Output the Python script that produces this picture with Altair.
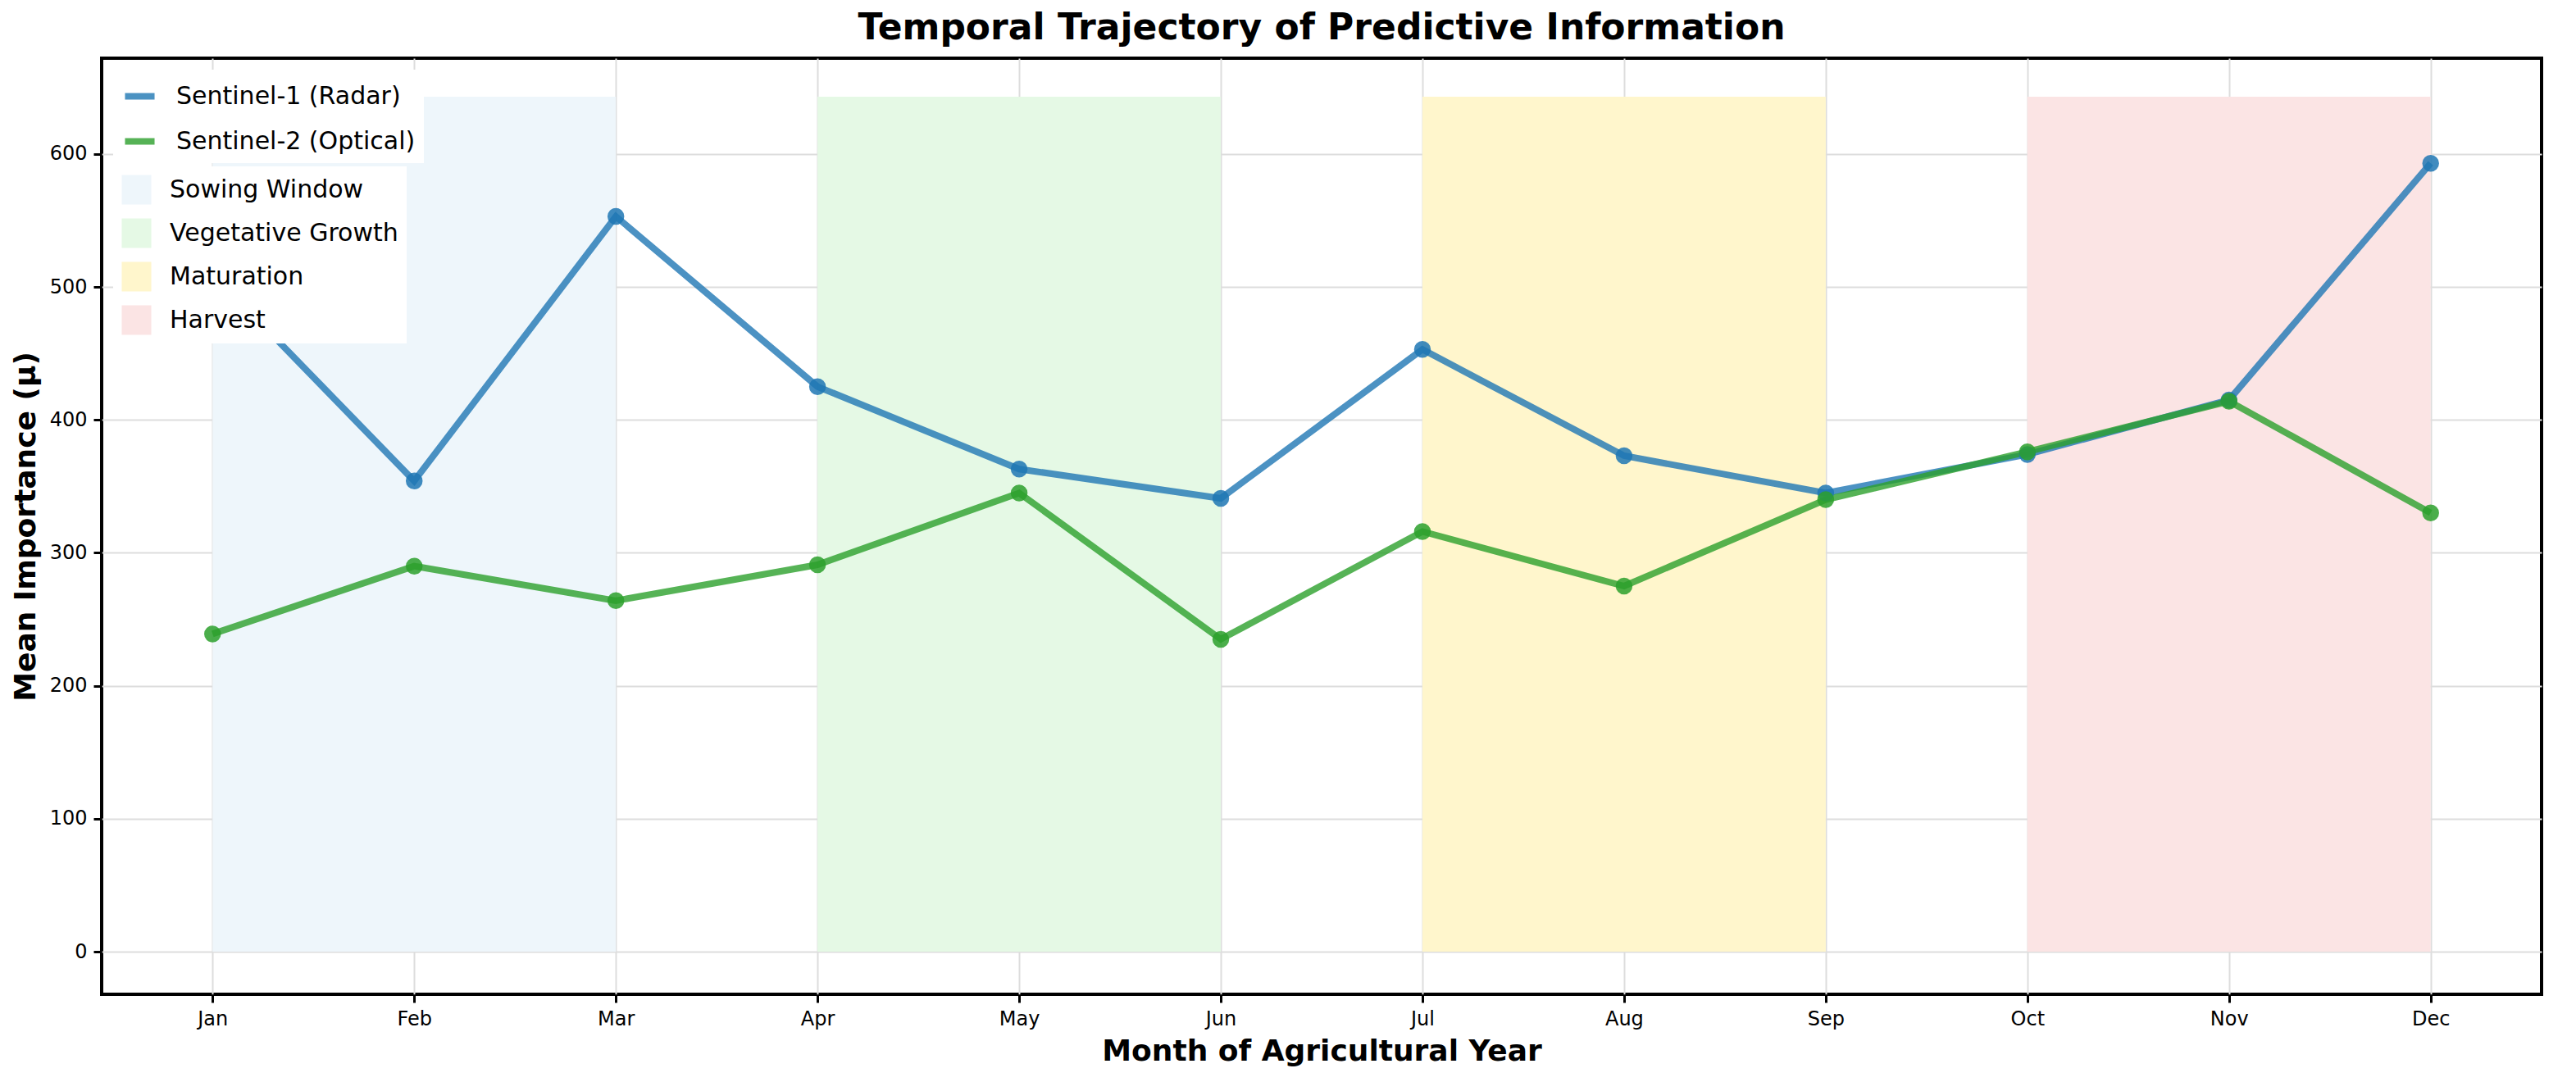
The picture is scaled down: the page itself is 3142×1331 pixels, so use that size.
import altair as alt
import pandas as pd

months = ["Jan","Feb","Mar","Apr","May","Jun","Jul","Aug","Sep","Oct","Nov","Dec"]
s1 = [510, 354, 553, 425, 363, 341, 453, 373, 345, 374, 415, 593]
s2 = [239, 290, 264, 291, 345, 235, 316, 275, 340, 376, 414, 330]
series_names = ["Sentinel-1 (Radar)", "Sentinel-2 (Optical)"]
series_colors = ["#1f77b4", "#2ca02c"]
phase_names = ["Sowing Window", "Vegetative Growth", "Maturation", "Harvest"]
phase_start = [0, 3, 6, 9]
phase_end = [2, 5, 8, 11]
phase_colors = ["#eef6fb", "#e5f9e5", "#fff6cc", "#fbe4e4"]
band_top = 643

rows = []
for i, m in enumerate(months):
    rows.append({"idx": i, "month": m, "series": series_names[0], "value": s1[i]})
    rows.append({"idx": i, "month": m, "series": series_names[1], "value": s2[i]})
df = pd.DataFrame(rows)
bands = pd.DataFrame({"phase": phase_names, "x0": phase_start, "x1": phase_end,
                      "y0": [0]*4, "y1": [band_top]*4})

label_expr = "[" + ",".join(f"'{m}'" for m in months) + "][datum.value]"
xs = alt.Scale(domain=[-0.55, 11.55], nice=False, zero=False)
ys = alt.Scale(domain=[-32, 672], nice=False, zero=False)
xaxis = alt.Axis(values=list(range(12)), labelExpr=label_expr, title="Month of Agricultural Year",
                 grid=True)
yaxis = alt.Axis(values=[0,100,200,300,400,500,600], title="Mean Importance (μ)", grid=True)

band = alt.Chart(bands).mark_rect().encode(
    x=alt.X("x0:Q", scale=xs, axis=xaxis),
    x2="x1:Q",
    y=alt.Y("y0:Q", scale=ys, axis=yaxis),
    y2="y1:Q",
    fill=alt.Fill("phase:N", scale=alt.Scale(domain=phase_names, range=phase_colors),
                  legend=alt.Legend(title=None, orient="none", legendX=14, legendY=132,
                                    symbolType="square", symbolSize=1300, labelFontSize=30,
                                    rowPadding=16, symbolStrokeWidth=0, fillColor="white",
                                    padding=10, labelOffset=22)),
)

color = alt.Color("series:N", scale=alt.Scale(domain=series_names, range=series_colors),
                  legend=alt.Legend(title=None, orient="none", legendX=14, legendY=14,
                                    symbolType="stroke", symbolStrokeWidth=8, symbolSize=1300,
                                    labelFontSize=30, rowPadding=16, fillColor="white",
                                    padding=10, labelOffset=22))
line = alt.Chart(df).mark_line(strokeWidth=8, opacity=0.8).encode(
    x=alt.X("idx:Q", scale=xs), y=alt.Y("value:Q", scale=ys), color=color)
pts = alt.Chart(df).mark_circle(size=420, opacity=0.85).encode(
    x=alt.X("idx:Q", scale=xs), y=alt.Y("value:Q", scale=ys),
    color=alt.Color("series:N", scale=alt.Scale(domain=series_names, range=series_colors), legend=None))

chart = alt.layer(band, line, pts).resolve_legend(fill="independent", color="independent").properties(
    width=2976, height=1142, background="white",
    title=alt.TitleParams("Temporal Trajectory of Predictive Information", fontSize=44,
                          fontWeight="bold", font="DejaVu Sans", offset=14),
).configure_view(stroke="black", strokeWidth=4).configure_axis(
    labelFontSize=24, titleFontSize=36, titleFontWeight="bold", labelFont="DejaVu Sans",
    titleFont="DejaVu Sans", gridColor="#dddddd", gridWidth=2, tickColor="black", tickSize=10,
    tickWidth=3, domain=False, labelPadding=8, titlePadding=10, labelColor="black", titleColor="black",
).configure_legend(labelFont="DejaVu Sans", labelColor="black", labelLimit=0)

chart.save("out.html", embed_options={"renderer": "svg", "actions": False})
